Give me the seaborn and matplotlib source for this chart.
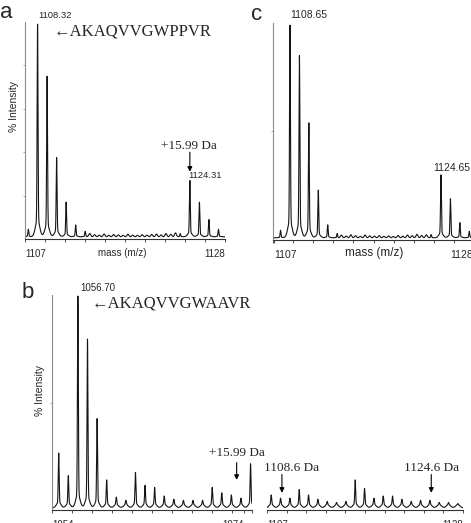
import numpy as np
import pandas as pd
import matplotlib
matplotlib.use("Agg")
import matplotlib.pyplot as plt
import seaborn as sns

# ---------------- data ----------------
# panel a : AKAQVVGWPPVR
a_mz = [1107.35, 1108.32, 1109.32, 1110.32, 1111.32, 1112.32, 1113.32,
        1123.3, 1124.31, 1125.31, 1126.31, 1127.31]
a_int = [3.5, 98, 74, 36.5, 16, 5.5, 2.5, 1.5, 26, 16, 8, 3.5]
a_noise_mz = [1113.8, 1114.3, 1114.8, 1115.3, 1115.8, 1116.3, 1116.8, 1117.3,
              1117.8, 1118.3, 1118.8, 1119.3, 1119.8, 1120.3, 1120.8, 1121.3,
              1121.8, 1122.3, 1122.8]
a_noise_int = [1.5, 1.0, 0.8, 1.3, 0.7, 1.1, 0.9, 0.7, 1.2, 0.8, 0.7, 1.0, 0.8,
               1.1, 1.3, 0.9, 1.5, 1.2, 1.8]

# panel c
c_mz = [1107.65, 1108.65, 1109.65, 1110.65, 1111.65, 1112.65, 1113.65,
        1123.6, 1124.65, 1125.65, 1126.65, 1127.65]
c_int = [3.5, 98, 84, 53, 22, 6, 2, 1.5, 29, 18, 7, 3]
c_noise_mz = [1114.1, 1114.6, 1115.1, 1115.6, 1116.1, 1116.6, 1117.1, 1117.6,
              1118.1, 1118.6, 1119.1, 1119.6, 1120.1, 1120.6, 1121.1, 1121.6,
              1122.1, 1122.6, 1123.1]
c_noise_int = [1.2, 0.8, 1.4, 1.0, 0.7, 1.3, 0.9, 0.8, 1.0, 0.7, 0.9, 0.6, 1.1,
               0.8, 1.3, 1.0, 1.6, 1.1, 1.4]

# panel b, left segment : AKAQVVGWAAVR
b1_mz = [1054.7, 1055.7, 1056.7, 1057.7, 1058.7, 1059.7, 1060.7, 1061.7, 1062.7,
         1063.7, 1064.7, 1065.7, 1066.7, 1067.7, 1068.7, 1069.7, 1070.7, 1071.7,
         1072.7, 1073.7, 1074.7]
b1_int = [24, 13.5, 97, 77, 40, 11.5, 3.5, 2, 15, 9, 8, 4, 2.5, 2, 2, 2,
          8, 5.5, 4.5, 3, 19]
# panel b, right segment
b2_mz = [1107.45, 1108.45, 1109.45, 1110.45, 1111.45, 1112.45, 1113.45, 1114.45,
         1115.45, 1116.45, 1117.45, 1118.45, 1119.45, 1120.45, 1121.45, 1122.45,
         1123.45, 1124.45, 1125.45, 1126.45, 1127.45]
b2_int = [4.5, 3, 3, 7, 4.5, 2.5, 1.5, 1, 1.5, 11.5, 7.5, 3, 4, 4, 2.5, 1.5,
          2, 2, 1, 1, 0.5]

a_labels = ["1108.32", "1124.31"]
c_labels = ["1108.65", "1124.65"]
b_labels = ["1056.70"]
pep_a = "\u2190AKAQVVGWPPVR"
pep_b = "\u2190AKAQVVGWAAVR"
ox_text = "+15.99 Da"
b_arrow_text = ["1108.6 Da", "1124.6 Da"]
b_arrow_mz = [1108.6, 1124.6]
a_ticks = [1107, 1128]
b1_ticks = [1054, 1074]
b2_ticks = [1107, 1128]


def spectrum(lo, hi, mz, h, noise_mz=(), noise_h=(), sharp=0.045, broad=0.22,
             frac=0.08, hump=0.0, base=1.0):
    grid = np.arange(lo, hi, 0.004)
    y = np.full_like(grid, base)
    for m, hh in zip(mz, h):
        y += hh * (1 - frac) * np.exp(-0.5 * ((grid - m) / sharp) ** 2)
        y += (hh * frac + hump) * np.exp(-0.5 * ((grid - m) / broad) ** 2)
    for m, hh in zip(noise_mz, noise_h):
        y += hh * np.exp(-0.5 * ((grid - m) / 0.1) ** 2)
    return pd.DataFrame({"mz": grid, "intensity": y})


sns.set_theme(style="white")
plt.rcParams["font.family"] = ["Liberation Sans", "DejaVu Sans"]
SERIF = ["Liberation Serif", "DejaVu Serif"]

W, H = 471, 523
fig = plt.figure(figsize=(W / 100, H / 100), dpi=100)
fig.patch.set_facecolor("white")


def rect(x0, y0, x1, y1):
    return [x0 / W, 1 - y1 / H, (x1 - x0) / W, (y1 - y0) / H]


def ftext(x, y, s, **kw):
    kw.setdefault("ha", "left")
    kw.setdefault("va", "center")
    fig.text(x / W, 1 - y / H, s, **kw)


LINE = "#151515"


def style_axis(ax, xlim, ticks, fs, left=True):
    ax.set_xlim(*xlim)
    ax.set_ylim(0, 100)
    ax.set_facecolor("white")
    for s in ["top", "right"]:
        ax.spines[s].set_visible(False)
    ax.spines["left"].set_visible(left)
    ax.spines["left"].set_color("#8c8c8c")
    ax.spines["left"].set_linewidth(0.8)
    ax.spines["bottom"].set_color("#333333")
    ax.spines["bottom"].set_linewidth(0.8)
    ax.set_xticks(ticks)
    labs = ax.set_xticklabels([str(t) for t in ticks], fontsize=fs)
    labs[0].set_ha("left")
    labs[-1].set_ha("right")
    ax.set_xticks(np.linspace(xlim[0], xlim[1], 11), minor=True)
    ax.tick_params(axis="x", which="both", direction="out", length=2.5,
                   width=0.6, color="#333333", pad=5.0, bottom=True)
    if left:
        ax.set_yticks([20, 40, 60, 80])
        ax.tick_params(axis="y", direction="out", length=1.5, width=0.6,
                       color="#9a9a9a", labelleft=False, left=True)
    else:
        ax.set_yticks([])
    ax.set_xlabel("")
    ax.set_ylabel("")


# ---------------- panel a ----------------
axA = fig.add_axes(rect(25, 22, 225, 239))
dfa = spectrum(1107.0, 1128.0, a_mz, a_int, a_noise_mz, a_noise_int)
sns.lineplot(data=dfa, x="mz", y="intensity", ax=axA, color=LINE, lw=0.8,
             estimator=None, sort=False)
style_axis(axA, (1107.0, 1128.0), a_ticks, 7)
ftext(0, 13, "a", fontsize=16)
ftext(38, 15, a_labels[0], fontsize=6.8)
ftext(54, 32, pep_a, fontsize=12, family=SERIF)
ftext(189, 146, ox_text, fontsize=9.5, family=SERIF, ha="center")
axA.annotate("", xy=(a_mz[8], 31), xytext=(a_mz[8], 40),
             arrowprops=dict(arrowstyle="-|>", color="black", lw=0.8,
                             mutation_scale=7, shrinkA=0, shrinkB=0))
ftext(188, 175, a_labels[1], fontsize=6.8)
ftext(14, 106, "% Intensity", fontsize=7.5, rotation=90, ha="center")
ftext(122, 253, "mass (m/z)", fontsize=7, ha="center")

# ---------------- panel c ----------------
axC = fig.add_axes(rect(273, 23, 474, 240))
dfc = spectrum(1106.85, 1128.15, c_mz, c_int, c_noise_mz, c_noise_int)
sns.lineplot(data=dfc, x="mz", y="intensity", ax=axC, color=LINE, lw=0.8,
             estimator=None, sort=False)
style_axis(axC, (1106.85, 1128.15), a_ticks, 7.5)
axC.set_yticks([50])
ftext(251, 15, "c", fontsize=16)
ftext(290, 15, c_labels[0], fontsize=7.5)
ftext(433, 168, c_labels[1], fontsize=7.5)
ftext(374, 253, "mass (m/z)", fontsize=8.5, ha="center")

# ---------------- panel b ----------------
axB1 = fig.add_axes(rect(52, 295, 252, 510))
axB2 = fig.add_axes(rect(267, 295, 463, 510))
dfb1 = spectrum(1054.0, 1074.85, b1_mz, b1_int, hump=1.5, frac=0.05)
dfb2 = spectrum(1107.0, 1128.0, b2_mz, b2_int, hump=1.5, frac=0.05)
sns.lineplot(data=dfb1, x="mz", y="intensity", ax=axB1, color=LINE, lw=0.8,
             estimator=None, sort=False)
sns.lineplot(data=dfb2, x="mz", y="intensity", ax=axB2, color=LINE, lw=0.8,
             estimator=None, sort=False)
style_axis(axB1, (1054.0, 1074.85), b1_ticks, 7)
style_axis(axB2, (1107.0, 1128.0), b2_ticks, 7, left=False)
axB1.set_yticks([50])
ftext(22, 293, "b", fontsize=16)
ftext(80, 288, b_labels[0], fontsize=7)
ftext(92, 303, pep_b, fontsize=12, family=SERIF)
ftext(237, 453, ox_text, fontsize=9.5, family=SERIF, ha="center")
axB1.annotate("", xy=(1073.25, 14), xytext=(1073.25, 22),
              arrowprops=dict(arrowstyle="-|>", color="black", lw=0.8,
                              mutation_scale=7, shrinkA=0, shrinkB=0))
for lab, m, xc in zip(b_arrow_text, b_arrow_mz, [292, 432]):
    ftext(xc, 468, lab, fontsize=9.5, family=SERIF, ha="center")
    axB2.annotate("", xy=(m, 8), xytext=(m, 16.5),
                  arrowprops=dict(arrowstyle="-|>", color="black", lw=0.8,
                                  mutation_scale=7, shrinkA=0, shrinkB=0))
ftext(40, 391, "% Intensity", fontsize=7.5, rotation=90, ha="center")

fig.savefig("out.png", dpi=100, facecolor="white")
